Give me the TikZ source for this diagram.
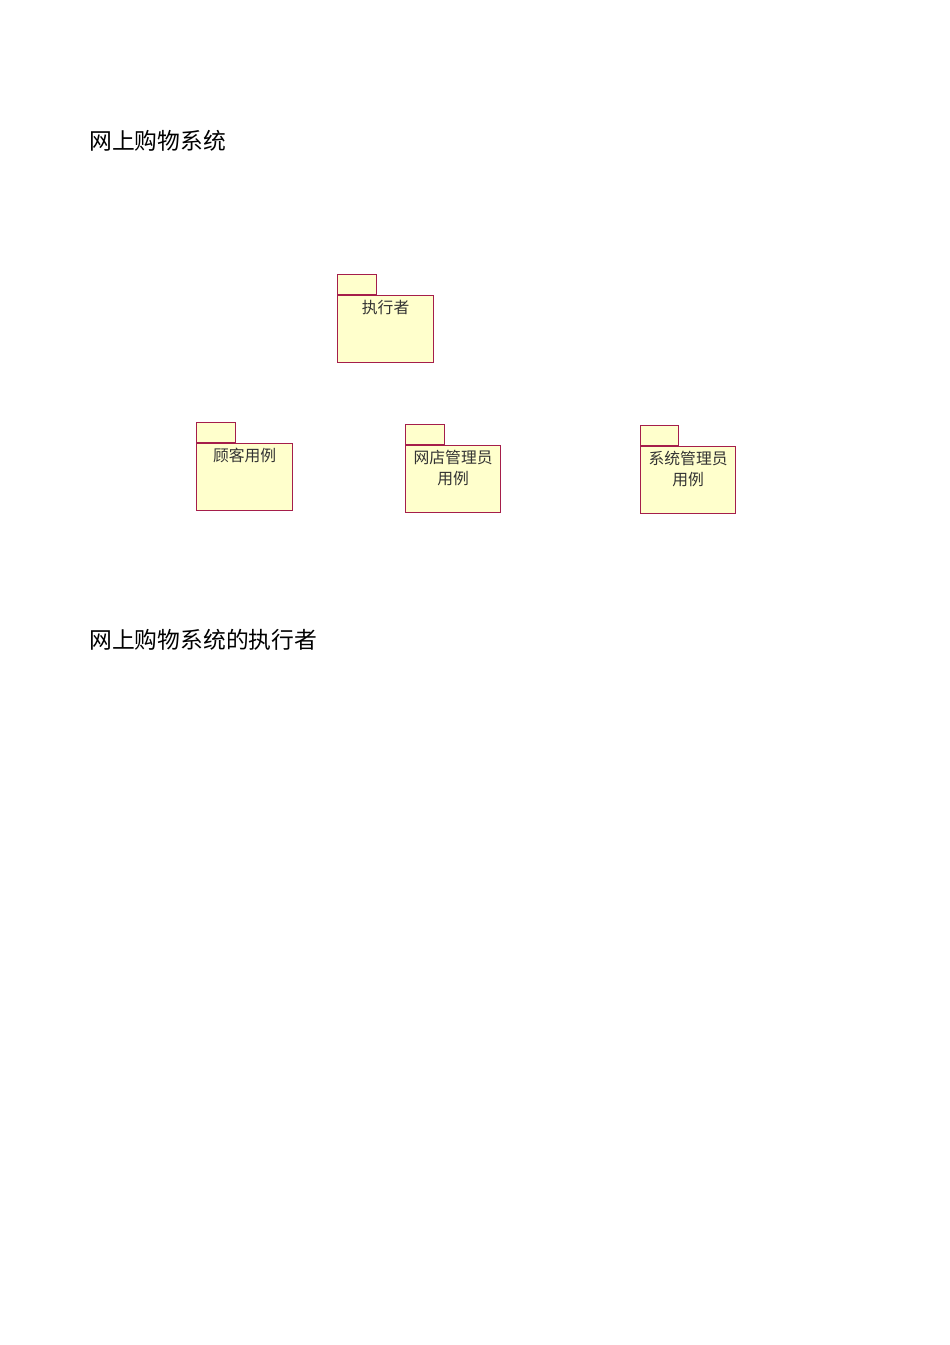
\documentclass[tikz,border=0pt]{standalone}
\usepackage{fontspec}
\setmainfont{Noto Sans CJK SC}
\newfontfamily\cjk{Noto Sans CJK SC}
\definecolor{pkgfill}{RGB}{255,255,204}
\definecolor{pkgline}{RGB}{165,30,75}
\begin{document}
\begin{tikzpicture}[x=1pt,y=-1pt,
  pkgbody/.style={draw=pkgline,fill=pkgfill,line width=1.2pt,minimum width=96pt,minimum height=67pt,anchor=north west,inner sep=0pt},
  pkgtab/.style={draw=pkgline,fill=pkgfill,line width=1.2pt,minimum width=39pt,minimum height=20pt,anchor=south west,inner sep=0pt},
  pkglabel/.style={anchor=north,align=center,inner sep=0pt,font=\cjk\fontsize{15.8}{21.5}\selectfont,text=black!80},
  title/.style={anchor=west,inner sep=0pt,font=\cjk\fontsize{22.8}{26}\selectfont}]
\useasboundingbox (0,0) rectangle (950,1345);
\fill[white] (0,0) rectangle (950,1345);
\node[title] (t1) at (89,141) {网上购物系统};
\node[title] (t2) at (89,640) {网上购物系统的执行者};
% packages
\node[pkgbody] (actor) at (337,295) {};
\node[pkgtab] (actortab) at (actor.north west) {};
\node[pkglabel] (actorlbl) at ([yshift=-5.5pt]actor.north) {执行者};
\node[pkgbody] (cust) at (196,443) {};
\node[pkgtab] (custtab) at (cust.north west) {};
\node[pkglabel] (custlbl) at ([yshift=-5pt]cust.north) {顾客用例};
\node[pkgbody,minimum width=95pt] (shop) at (405,445) {};
\node[pkgtab] (shoptab) at (shop.north west) {};
\node[pkglabel] (shoplbl) at ([yshift=-4.5pt]shop.north) {网店管理员\\用例};
\node[pkgbody,minimum width=95pt] (sys) at (640,446) {};
\node[pkgtab,minimum width=38pt] (systab) at (sys.north west) {};
\node[pkglabel] (syslbl) at ([yshift=-4.5pt]sys.north) {系统管理员\\用例};
\end{tikzpicture}
\end{document}
